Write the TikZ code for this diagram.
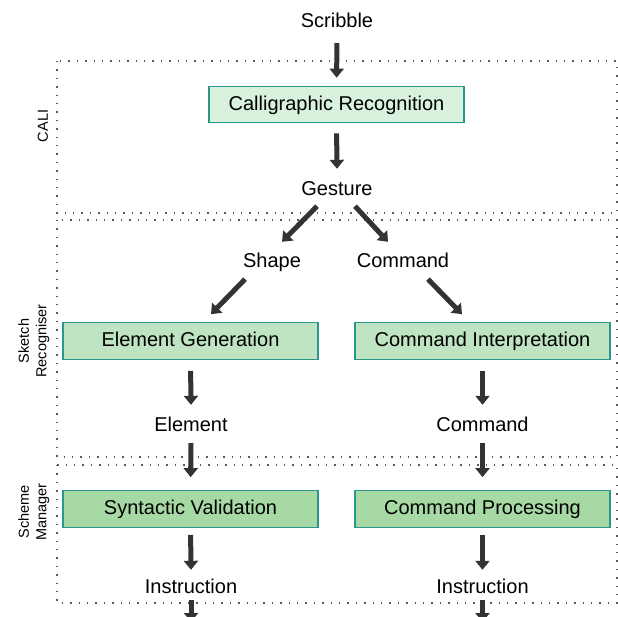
\documentclass[tikz,border=0pt]{standalone}
\usepackage{fontspec}
\setmainfont{Liberation Sans}
\usetikzlibrary{arrows.meta}
\definecolor{fillA}{HTML}{D9F2DD}
\definecolor{fillB}{HTML}{BEE4C1}
\definecolor{fillC}{HTML}{A6D9A4}
\definecolor{edgeT}{HTML}{2A968C}
\definecolor{arrc}{HTML}{333333}
\definecolor{dotc}{HTML}{5A5A5A}
\begin{document}
\begin{tikzpicture}[x=1pt,y=-1pt,
  lbl/.style={font=\fontsize{20}{24}\selectfont, inner sep=0pt, minimum height=38pt, text height=14.5pt, text depth=0pt},
  stepbox/.style={draw=edgeT, line width=1.2pt, minimum width=255pt, minimum height=36.5pt, inner sep=0pt, text height=14.5pt, text depth=3pt, font=\fontsize{20}{24}\selectfont},
  arr/.style={draw=arrc, line width=5pt, -{Triangle[width=14pt,length=9pt]}},
  frame/.style={draw=dotc, line width=1.4pt, dash pattern=on 1.4pt off 7pt},
  side/.style={font=\fontsize{14.5}{17.5}\selectfont, rotate=90, align=center, inner sep=0pt}]
\useasboundingbox (0,0) rectangle (618,616);

% frames
\draw[frame] (57,61) rectangle (617,213);
\draw[frame] (57,220) rectangle (617,457);
\draw[frame] (57,465) rectangle (617,603);

% side labels
\node[side] (lcali) at (43,126) {CALI};
\node[side] (lsr) at (34,341) {Sketch\\Recogniser};
\node[side] (lsm) at (34,512) {Scheme\\Manager};

% nodes
\node[lbl] (scribble) at (337,20) {Scribble};
\node[stepbox, fill=fillA] (calli) at (336.5,104.5) {Calligraphic Recognition};
\node[lbl] (gesture) at (337,188) {Gesture};
\node[lbl] (shape) at (272,260) {Shape};
\node[lbl] (command) at (403,260) {Command};
\node[stepbox, fill=fillB] (eg) at (190.5,341) {Element Generation};
\node[stepbox, fill=fillB] (ci) at (482.5,341) {Command Interpretation};
\node[lbl] (element) at (191,424) {Element};
\node[lbl] (command2) at (482.5,424) {Command};
\node[stepbox, fill=fillC] (sv) at (190.5,509) {Syntactic Validation};
\node[stepbox, fill=fillC] (cp) at (482.5,509) {Command Processing};
\node[lbl] (instr1) at (191,586) {Instruction};
\node[lbl] (instr2) at (482.5,586) {Instruction};
\coordinate (out1) at (191,622);
\coordinate (out2) at (482.5,622);

% connectors
\draw[arr, shorten <=4pt, shorten >=8pt] (scribble.south) -- (calli.north);
\draw[arr, shorten <=10pt] (calli.south) -- (gesture.north);
\draw[arr] ([xshift=-20pt, yshift=1pt]gesture.south) -- ([xshift=10pt, yshift=-1pt]shape.north);
\draw[arr] ([xshift=18pt, yshift=1pt]gesture.south) -- ([xshift=-15pt, yshift=-1pt]command.north);
\draw[arr] ([xshift=-27pt]shape.south) -- ([xshift=20.5pt, yshift=8pt]eg.north);
\draw[arr] ([xshift=25pt]command.south) -- ([xshift=-20.5pt, yshift=8pt]ci.north);
\draw[arr, shorten <=11pt] (eg.south) -- (element.north);
\draw[arr, shorten <=11pt] (ci.south) -- (command2.north);
\draw[arr, shorten >=13pt] (element.south) -- (sv.north);
\draw[arr, shorten >=13pt] (command2.south) -- (cp.north);
\draw[arr, shorten <=7pt, shorten >=-3pt] (sv.south) -- (instr1.north);
\draw[arr, shorten <=7pt, shorten >=-3pt] (cp.south) -- (instr2.north);
\draw[arr, shorten <=-5pt] (instr1.south) -- (out1);
\draw[arr, shorten <=-5pt] (instr2.south) -- (out2);
\end{tikzpicture}
\end{document}
